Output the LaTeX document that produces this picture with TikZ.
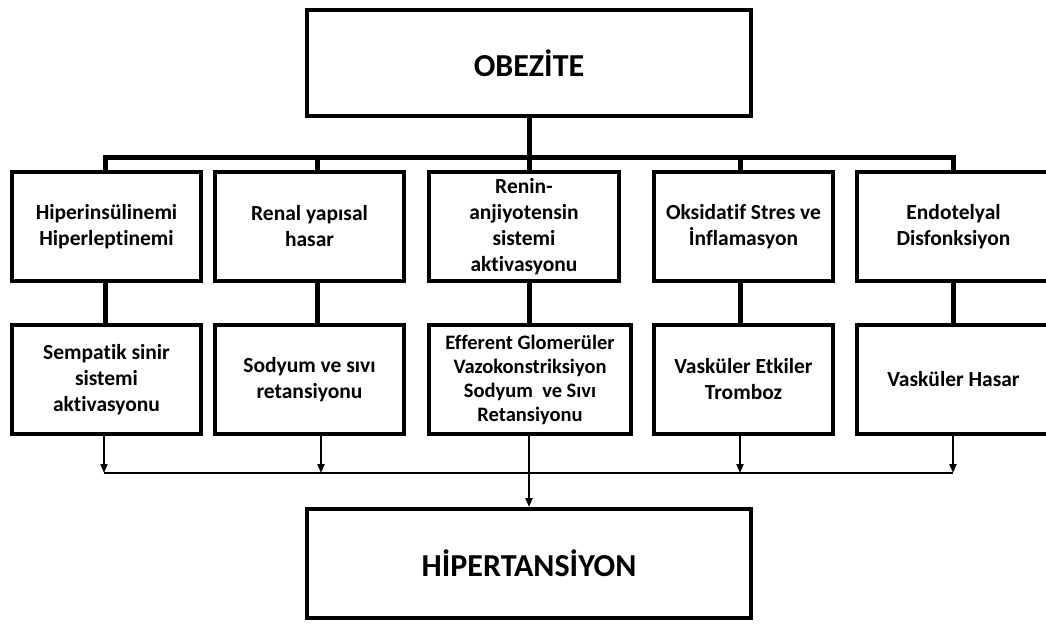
\documentclass[tikz,border=0pt]{standalone}
\usepackage{fontspec}
\setmainfont{Carlito}[Ligatures={NoCommon}]
\usetikzlibrary{arrows.meta}
\tikzset{
  box/.style={draw=black, line width=3.6pt, fill=white, rectangle, inner sep=0pt, align=center,
    font=\fontsize{21.5}{26}\selectfont\bfseries},
  bigbox/.style={box, line width=4pt, font=\fontsize{32}{38}\selectfont\bfseries},
  smallfont/.style={font=\fontsize{20.5}{24}\selectfont\bfseries},
  thick connector/.style={line width=5pt, line cap=butt},
  thin connector/.style={line width=2pt},
  arr/.style={line width=2pt, -{Triangle[length=9pt,width=7pt]}}
}
\begin{document}
\begin{tikzpicture}[x=1pt, y=-1pt]
\useasboundingbox (0,0) rectangle (1046,624);
\fill[white] (0,0) rectangle (1046,624);
\clip (0,0) rectangle (1046,624);

% top box
\node[bigbox, minimum width=444pt, minimum height=106pt] (ob) at (529,63) {OBEZİTE};

% row 1
\node[box, minimum width=189pt, minimum height=109pt] (b1) at (106.5,226.5) {Hiperinsülinemi\\Hiperleptinemi};
\node[box, minimum width=189pt, minimum height=109pt] (b2) at (309.5,226.5) {Renal yapısal\\hasar};
\node[box, minimum width=190pt, minimum height=109pt] (b3) at (524,226.5) {Renin-\\anjiyotensin\\sistemi\\aktivasyonu};
\node[box, minimum width=179pt, minimum height=109pt] (b4) at (743.5,226.5) {Oksidatif Stres ve\\İnflamasyon};
\node[box, minimum width=193pt, minimum height=109pt] (b5) at (953.5,226.5) {Endotelyal\\Disfonksiyon};

% row 2
\node[box, minimum width=189pt, minimum height=109pt] (c1) at (106.5,379.5) {Sempatik sinir\\sistemi\\aktivasyonu};
\node[box, minimum width=189pt, minimum height=109pt] (c2) at (309.5,379.5) {Sodyum ve sıvı\\retansiyonu};
\node[box, smallfont, minimum width=202pt, minimum height=109pt] (c3) at (530,379.5) {Efferent Glomerüler\\Vazokonstriksiyon\\Sodyum\ \ ve Sıvı\\Retansiyonu};
\node[box, minimum width=179pt, minimum height=109pt] (c4) at (743.5,379.5) {Vasküler Etkiler\\Tromboz};
\node[box, minimum width=193pt, minimum height=109pt] (c5) at (953.5,379.5) {Vasküler Hasar};

% bottom box
\node[bigbox, minimum width=444pt, minimum height=109pt] (hp) at (529,563.5) {HİPERTANSİYON};

% top bus
\coordinate (d1) at (105,157);
\coordinate (d2) at (317,157);
\coordinate (d3) at (529,157);
\coordinate (d4) at (740,157);
\coordinate (d5) at (953,157);
\draw[thick connector] (ob.south) -- (d3);
\draw[thick connector, line cap=rect] (d1) -- (d5);
\foreach \i in {1,...,5} {
  \draw[thick connector] (d\i) -- (d\i |- b\i.north);
  \draw[thick connector] (d\i |- b\i.south) -- (d\i |- c\i.north);
}

% bottom bus
\coordinate (a1) at (104,473);
\coordinate (a2) at (321,473);
\coordinate (a4) at (740,473);
\coordinate (a5) at (953,473);
\draw[thin connector] (a1) -- (a5);
\foreach \i in {1,2,4,5} {
  \draw[arr] (a\i |- c\i.south) -- (a\i);
}
\draw[arr] (c3.south -| hp.north) -- (hp.north);
\end{tikzpicture}
\end{document}
